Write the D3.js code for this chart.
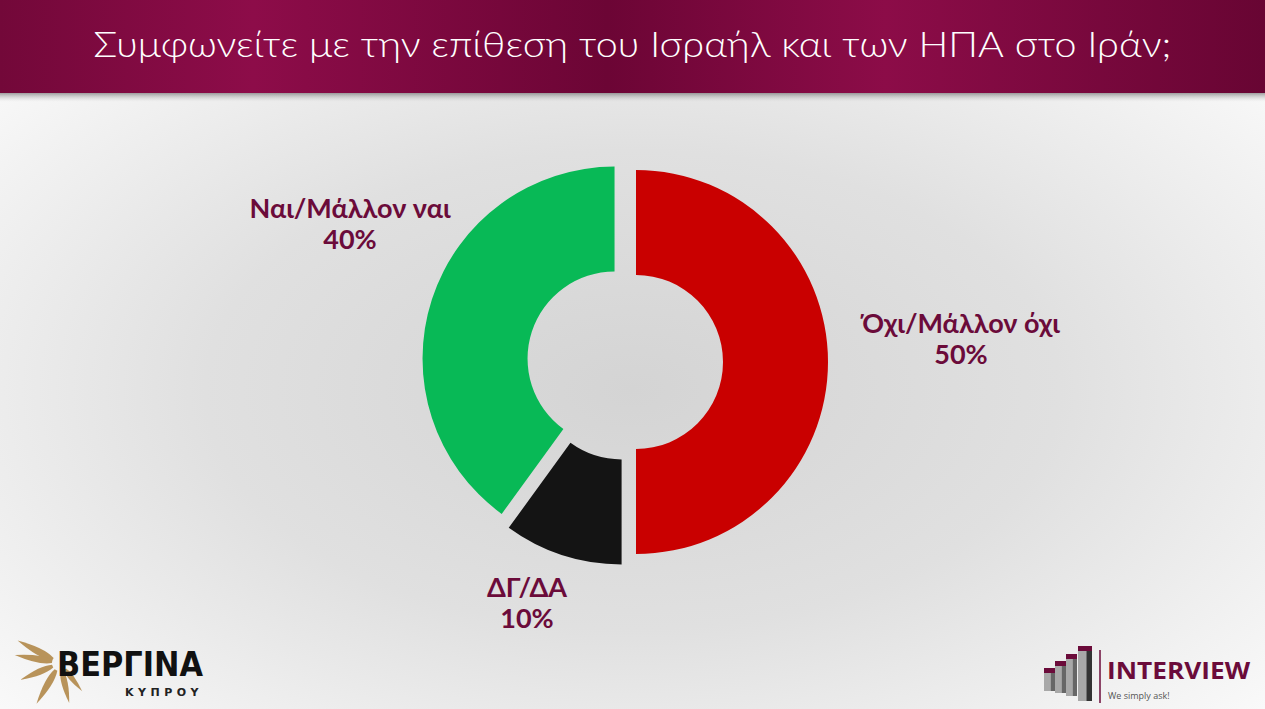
<!DOCTYPE html>
<html>
<head>
<meta charset="utf-8">
<script src="https://cdn.jsdelivr.net/npm/d3@7"></script>
<style>
  html, body { margin: 0; padding: 0; overflow: hidden; }
  svg { display: block; }
</style>
</head>
<body>
<script>
  // chart data
  const categories = ['Όχι/Μάλλον όχι', 'ΔΓ/ΔΑ', 'Ναι/Μάλλον ναι'];
  const values = [50, 10, 40];
  const colors = ['#c90000', '#141414', '#08b956'];
  const title = 'Συμφωνείτε με την επίθεση του Ισραήλ και των ΗΠΑ στο Ιράν;';

  const width = 1265;
  const height = 709;
  const cx = 625;
  const cy = 362;
  const outerR = 192;
  const innerR = 87;
  const explode = 11;
  const labelColor = '#6b0b3a';
  const font = "'Lato', 'Noto Sans', sans-serif";

  // label anchors relative to the pie centre (layout only)
  const labelOffsets = [[336, -29], [-98, 235], [-275, -144]];

  const svg = d3.select('body').append('svg')
    .attr('width', width)
    .attr('height', height);

  const defs = svg.append('defs');

  const bg = defs.append('radialGradient')
    .attr('id', 'bg')
    .attr('cx', 0.5).attr('cy', 0.55).attr('r', 0.75);
  bg.append('stop').attr('offset', '0%').attr('stop-color', '#d4d4d4');
  bg.append('stop').attr('offset', '45%').attr('stop-color', '#e0e0e0');
  bg.append('stop').attr('offset', '100%').attr('stop-color', '#ffffff');

  const bar = defs.append('linearGradient').attr('id', 'bar');
  [['0%', '#730839'], ['20%', '#8d0c49'], ['48%', '#6c0535'], ['70%', '#8c0c48'], ['100%', '#680533']]
    .forEach(([o, c]) => bar.append('stop').attr('offset', o).attr('stop-color', c));

  const shade = defs.append('linearGradient').attr('id', 'shade')
    .attr('x1', 0).attr('x2', 0).attr('y1', 0).attr('y2', 1);
  shade.append('stop').attr('offset', '0%').attr('stop-color', '#444').attr('stop-opacity', 0.6);
  shade.append('stop').attr('offset', '100%').attr('stop-color', '#ccc').attr('stop-opacity', 0);

  svg.append('rect').attr('width', width).attr('height', height).attr('fill', 'url(#bg)');

  // header bar
  svg.append('rect').attr('y', 92).attr('width', width).attr('height', 10).attr('fill', 'url(#shade)');
  svg.append('rect').attr('width', width).attr('height', 93).attr('fill', 'url(#bar)');
  svg.append('text')
    .attr('x', width / 2)
    .attr('y', 57)
    .attr('text-anchor', 'middle')
    .attr('fill', '#ffffff')
    .attr('font-family', font)
    .attr('font-weight', 300)
    .attr('font-size', 35)
    .attr('textLength', 1078)
    .attr('lengthAdjust', 'spacingAndGlyphs')
    .text(title);

  // donut
  const data = categories.map((c, i) => ({ name: c, value: values[i], color: colors[i] }));
  const pie = d3.pie().sort(null).value((d) => d.value);
  const arc = d3.arc().innerRadius(innerR).outerRadius(outerR);
  const arcs = pie(data);

  const g = svg.append('g').attr('transform', `translate(${cx},${cy})`);

  g.selectAll('path')
    .data(arcs)
    .join('path')
    .attr('d', arc)
    .attr('fill', (d) => d.data.color)
    .attr('transform', (d) => {
      const a = (d.startAngle + d.endAngle) / 2;
      return `translate(${Math.sin(a) * explode},${-Math.cos(a) * explode})`;
    });

  const labels = g.selectAll('g.label')
    .data(arcs)
    .join('g')
    .attr('class', 'label')
    .attr('transform', (d, i) => `translate(${labelOffsets[i][0]},${labelOffsets[i][1]})`)
    .attr('font-family', font)
    .attr('font-weight', 700)
    .attr('font-size', 27)
    .attr('fill', labelColor)
    .attr('text-anchor', 'middle');

  labels.append('text').text((d) => d.data.name);
  labels.append('text').attr('y', 31).text((d) => `${d.data.value}%`);

  // VERGINA logo: tapered gold rays
  const vg = svg.append('g').attr('transform', 'translate(60,663)');
  const rays = [[-152, 48], [-170, 46], [-203, 43], [-240, 47], [-283, 41], [-308, 36]];
  rays.forEach(([deg, len]) => {
    const w = len * 0.13;
    vg.append('path')
      .attr('d', `M${-len},0 Q${-len * 0.45},${-w} -8,-1.5 L-8,1.5 Q${-len * 0.45},${w} ${-len},0Z`)
      .attr('fill', '#b8935a')
      .attr('transform', `rotate(${deg + 180})`);
  });
  svg.append('text').attr('x', 57).attr('y', 676)
    .attr('font-family', "'DejaVu Sans', sans-serif").attr('font-weight', 700)
    .attr('font-size', 34).attr('fill', '#111').attr('textLength', 146)
    .attr('lengthAdjust', 'spacingAndGlyphs').text('ΒΕΡΓΙΝΑ');
  svg.append('text').attr('x', 125).attr('y', 696)
    .attr('font-family', "'DejaVu Sans', sans-serif").attr('font-weight', 700)
    .attr('font-size', 11).attr('fill', '#222').attr('letter-spacing', 4.5).text('ΚΥΠΡΟΥ');

  // INTERVIEW logo
  const iv = svg.append('g');
  [[1044, 672, 19], [1055, 665, 28], [1066, 658, 38], [1078, 650, 51]].forEach(([x, y, h], i) => {
    const w = i === 3 ? 14 : 11;
    iv.append('rect').attr('x', x).attr('y', y).attr('width', w * 0.6).attr('height', h)
      .attr('fill', '#a8a8a8');
    iv.append('rect').attr('x', x + w * 0.6).attr('y', y).attr('width', w * 0.4).attr('height', h)
      .attr('fill', i === 3 ? '#333' : '#666');
    iv.append('rect').attr('x', x).attr('y', y - 4).attr('width', w).attr('height', 5).attr('fill', '#6b0b3a');
  });
  iv.append('line').attr('x1', 1100).attr('x2', 1100).attr('y1', 650).attr('y2', 703)
    .attr('stroke', '#6b0b3a').attr('stroke-width', 1.5);
  iv.append('text').attr('x', 1107).attr('y', 679)
    .attr('font-family', "'Open Sans', sans-serif").attr('font-weight', 700)
    .attr('font-size', 23).attr('fill', '#6b0b3a').attr('textLength', 143)
    .attr('lengthAdjust', 'spacingAndGlyphs').text('INTERVIEW');
  iv.append('text').attr('x', 1108).attr('y', 699)
    .attr('font-family', "'Open Sans', sans-serif")
    .attr('font-size', 9).attr('fill', '#555').text('We simply ask!');
</script>
</body>
</html>
